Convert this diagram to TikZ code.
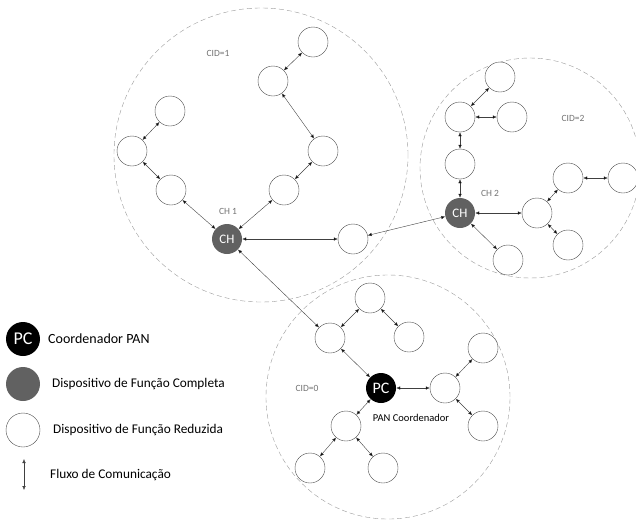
\documentclass[tikz,border=0pt]{standalone}
\usepackage{fontspec}
\setmainfont{Carlito}
\usetikzlibrary{arrows.meta}

\begin{document}
\begin{tikzpicture}[x=1pt, y=-1pt, minimum size=30pt, inner sep=0pt,
    rfd/.style={shape=circle,draw=black!70,fill=white},
    ffd/.style={shape=circle,fill=black!62,text=white,minimum size=30pt,font=\fontsize{13}{13}\selectfont},
    pan/.style={shape=circle,fill=black,text=white,minimum size=30pt,font=\fontsize{16}{16}\selectfont},
    cluster/.style={draw=black!40,dash pattern=on 5pt off 3pt},
    flow/.style={draw=black!75,{Latex[length=4pt,width=3.5pt]}-{Latex[length=4pt,width=3.5pt]}},
    tag/.style={minimum size=0pt,text=black!55,font=\fontsize{9.5}{9.5}\selectfont},
    note/.style={minimum size=0pt,anchor=west,font=\fontsize{13.3}{13.3}\selectfont}]
    \useasboundingbox (0,0) rectangle (636,520);

    % clusters
    \draw[cluster] (261,155) circle [radius=147pt];
    \draw[cluster] (530,168) circle [radius=110pt];
    \draw[cluster] (388,397) circle [radius=122pt];

    % CID=1
    \node[ffd] (ch1) at (227,239) {CH};
    \node[rfd] (a1) at (313,42) {};
    \node[rfd] (a2) at (273,81) {};
    \node[rfd] (a3) at (323,151) {};
    \node[rfd] (a4) at (284,190) {};
    \node[rfd] (b1) at (170,111) {};
    \node[rfd] (b2) at (132,151) {};
    \node[rfd] (b3) at (171,190) {};
    \node[rfd] (n1) at (353,239) {};
    \node[tag] (lab1) at (228,211) {CH 1};
    \node[tag] (cid1) at (218,53) {CID=1};

    % CID=2
    \node[ffd] (ch2) at (460,213) {CH};
    \node[rfd] (c1) at (500,77) {};
    \node[rfd] (c2) at (460,117) {};
    \node[rfd] (c3) at (512,117) {};
    \node[rfd] (c4) at (460,164) {};
    \node[rfd] (d1) at (537,213) {};
    \node[rfd] (d2) at (568,178) {};
    \node[rfd] (d3) at (623,178) {};
    \node[rfd] (d4) at (568,245) {};
    \node[rfd] (e1) at (508,260) {};
    \node[tag] (lab2) at (490,193) {CH 2};
    \node[tag] (cid2) at (573,118) {CID=2};

    % CID=0
    \node[pan] (pc) at (381,388) {PC};
    \node[rfd] (f1) at (370,298) {};
    \node[rfd] (f2) at (330,338) {};
    \node[rfd] (f3) at (409,337) {};
    \node[rfd] (g1) at (445,388) {};
    \node[rfd] (g2) at (483,348) {};
    \node[rfd] (g3) at (483,426) {};
    \node[rfd] (h1) at (346,426) {};
    \node[rfd] (h2) at (310,468) {};
    \node[rfd] (h3) at (383,468) {};
    \node[tag,text=black,font=\fontsize{10.5}{10.5}\selectfont] (lab0) at (411,418) {PAN Coordenador};
    \node[tag] (cid0) at (307,388) {CID=0};

    \path[flow] (a1) edge (a2) (a2) edge (a3) (a3) edge (a4) (a4) edge (ch1);
    \path[flow] (b1) edge (b2) (b2) edge (b3) (b3) edge (ch1);
    \path[flow] (ch1) edge (n1) (n1) edge (ch2) (ch1) edge (f2);
    \path[flow] (c1) edge (c2) (c2) edge (c3) (c2) edge (c4) (c4) edge (ch2);
    \path[flow] (ch2) edge (d1) (d1) edge (d2) (d2) edge (d3) (d1) edge (d4) (ch2) edge (e1);
    \path[flow] (f1) edge (f2) (f1) edge (f3) (f2) edge (pc);
    \path[flow] (pc) edge (g1) (g1) edge (g2) (g1) edge (g3);
    \path[flow] (pc) edge (h1) (h1) edge (h2) (h1) edge (h3);

    % legenda
    \node[pan,minimum size=34pt,font=\fontsize{18}{18}\selectfont] (kpc) at (23,339) {PC};
    \node[ffd,minimum size=34pt] (kffd) at (23,384) {};
    \node[rfd,minimum size=34pt] (krfd) at (23,430) {};
    \coordinate (kup) at (24,459);
    \coordinate (kdown) at (24,490);
    \draw[flow] (kup) -- (kdown);
    \node[note,font=\fontsize{14}{14}\selectfont] (tpc) at (48,339) {Coordenador PAN};
    \node[note] (tffd) at (52,384) {Dispositivo de Função Completa};
    \node[note] (trfd) at (53,430) {Dispositivo de Função Reduzida};
    \node[note] (tflow) at (50,475) {Fluxo de Comunicação};
\end{tikzpicture}
\end{document}
